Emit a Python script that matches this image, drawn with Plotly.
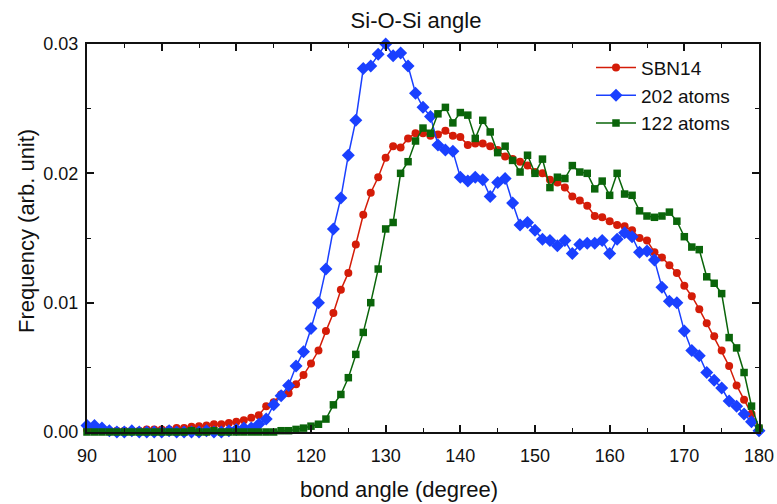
import plotly.graph_objects as go

angles = list(range(90, 181))

sbn14 = [0.0002, 0.0002, 0.0001, 0.0001, 0.0001, 0.0001, 0.0001, 0.0001, 0.0002, 0.0002,
         0.0002, 0.0002, 0.0003, 0.0003, 0.0004, 0.00045, 0.0005, 0.0006, 0.0006, 0.0007,
         0.0008, 0.0009, 0.0011, 0.0013, 0.0020, 0.0023, 0.0029, 0.0030, 0.0037, 0.0044,
         0.0053, 0.0063, 0.0078, 0.0092, 0.0110, 0.0123, 0.0145, 0.0168, 0.0185, 0.0197,
         0.0212, 0.0221, 0.0220, 0.0227, 0.0231, 0.0231, 0.0229, 0.0230, 0.0233, 0.0229,
         0.0228, 0.0222, 0.0223, 0.0223, 0.0221, 0.0218, 0.0213, 0.0211, 0.0209, 0.0206,
         0.0201, 0.0200, 0.0195, 0.0193, 0.0189, 0.0182, 0.0179, 0.0175, 0.0167, 0.0166,
         0.0163, 0.0160, 0.0159, 0.0156, 0.0150, 0.0148, 0.0139, 0.0135, 0.0129, 0.0123,
         0.0113, 0.0105, 0.0095, 0.0084, 0.0074, 0.0063, 0.0051, 0.0036, 0.0025, 0.0014,
         0.0003]

atoms202 = [0.0005, 0.0005, 0.0003, 0.0001, 0.0000, 0.0000, 0.0001, 0.0000, 0.0000, 0.0000,
            0.0000, 0.0001, 0.0000, 0.0000, 0.0000, 0.0000, 0.0001, 0.0000, 0.0000, 0.0001,
            0.0002, 0.0003, 0.0003, 0.0006, 0.0010, 0.0021, 0.0028, 0.0036, 0.0051, 0.0062,
            0.0080, 0.0100, 0.0126, 0.0157, 0.0181, 0.0214, 0.0241, 0.0281, 0.0283, 0.0292,
            0.0300, 0.0291, 0.0293, 0.0283, 0.0262, 0.0251, 0.0244, 0.0222, 0.0218, 0.0217,
            0.0197, 0.0194, 0.0197, 0.0195, 0.0182, 0.0193, 0.0196, 0.0177, 0.0160, 0.0162,
            0.0156, 0.0149, 0.0148, 0.0144, 0.0148, 0.0138, 0.0145, 0.0146, 0.0146, 0.0148,
            0.0138, 0.0149, 0.0154, 0.0151, 0.0139, 0.0140, 0.0133, 0.0112, 0.0101, 0.0100,
            0.0078, 0.0063, 0.0059, 0.0046, 0.0040, 0.0034, 0.0024, 0.0020, 0.0014, 0.0008,
            0.0001]

atoms122 = [0.0000, 0.0000, 0.0000, 0.0000, 0.0000, 0.0000, 0.0000, 0.0000, 0.0000, 0.0000,
            0.0000, 0.0000, 0.0000, 0.0000, 0.0001, 0.0000, 0.0000, 0.0001, 0.0000, 0.0000,
            0.0000, 0.0000, 0.0000, 0.0000, 0.0000, 0.0000, 0.0001, 0.0001, 0.0002, 0.0003,
            0.00045, 0.0006, 0.0010, 0.0021, 0.0029, 0.0042, 0.0060, 0.0077, 0.0100, 0.0126,
            0.0157, 0.0162, 0.0200, 0.0209, 0.0225, 0.0235, 0.0231, 0.0246, 0.0251, 0.0239,
            0.0247, 0.0245, 0.0227, 0.0241, 0.0232, 0.0216, 0.0221, 0.0210, 0.0201, 0.0214,
            0.0200, 0.0211, 0.0189, 0.0197, 0.0196, 0.0206, 0.0201, 0.0200, 0.0188, 0.0194,
            0.0183, 0.0200, 0.0184, 0.0183, 0.0171, 0.0167, 0.0166, 0.0167, 0.0170, 0.0163,
            0.0151, 0.0143, 0.0141, 0.0120, 0.0115, 0.0107, 0.0073, 0.0065, 0.0046, 0.0020,
            0.0003]

x_ticks = [90, 100, 110, 120, 130, 140, 150, 160, 170, 180]
y_ticks = [0.00, 0.01, 0.02, 0.03]
y_tick_text = ["0.00", "0.01", "0.02", "0.03"]

FONT = "Liberation Sans, Arial, Helvetica, sans-serif"

fig = go.Figure()
fig.add_trace(go.Scatter(x=angles, y=sbn14, name="SBN14", mode="lines+markers",
                         line=dict(color="#d41c08", width=1.5),
                         marker=dict(symbol="circle", size=8, color="#d41c08"),
                         cliponaxis=False))
fig.add_trace(go.Scatter(x=angles, y=atoms202, name="202 atoms", mode="lines+markers",
                         line=dict(color="#1a40ff", width=1.5),
                         marker=dict(symbol="diamond", size=10, color="#1a40ff"),
                         cliponaxis=False))
fig.add_trace(go.Scatter(x=angles, y=atoms122, name="122 atoms", mode="lines+markers",
                         line=dict(color="#0a650a", width=1.5),
                         marker=dict(symbol="square", size=7.5, color="#0a650a"),
                         cliponaxis=False))

axis_common = dict(showgrid=False, zeroline=False, showline=True, linecolor="#111",
                   linewidth=2, mirror="ticks", ticks="inside", ticklen=7, tickwidth=1.5,
                   tickcolor="#111", automargin=False,
                   tickfont=dict(family=FONT, size=18, color="#111"))

fig.update_xaxes(range=[90, 180], tickvals=x_ticks, ticklabelstandoff=6,
                 minor=dict(dtick=5, ticks="inside", ticklen=4, tickwidth=1.2, tickcolor="#111"),
                 **axis_common)
fig.update_yaxes(range=[0, 0.03], tickvals=y_ticks, ticktext=y_tick_text, ticklabelstandoff=3,
                 minor=dict(dtick=0.005, ticks="inside", ticklen=4, tickwidth=1.2, tickcolor="#111"),
                 **axis_common)

fig.update_layout(
    width=777, height=504,
    margin=dict(l=87, r=18, t=44, b=72),
    paper_bgcolor="white", plot_bgcolor="white",
    title=dict(text="Si-O-Si angle", x=(416 - 87) / 672, xref="paper", xanchor="center",
               y=1 - 20 / 504, yanchor="middle",
               font=dict(family=FONT, size=22, color="#111")),
    legend=dict(x=0.75, y=0.988, xanchor="left", yanchor="top",
                bgcolor="rgba(0,0,0,0)", font=dict(family=FONT, size=19, color="#111"),
                tracegroupgap=0, itemwidth=40),
    showlegend=True,
    annotations=[
        dict(text="bond angle (degree)", xref="paper", yref="paper",
             x=(399 - 87) / 672, y=(432 - 490) / 388, xanchor="center", yanchor="middle",
             showarrow=False, font=dict(family=FONT, size=22, color="#111")),
        dict(text="Frequency (arb. unit)", xref="paper", yref="paper", textangle=-90,
             x=(27 - 87) / 672, y=(432 - 231) / 388, xanchor="center", yanchor="middle",
             showarrow=False, font=dict(family=FONT, size=22, color="#111")),
    ],
)

fig.write_html("out.html")
